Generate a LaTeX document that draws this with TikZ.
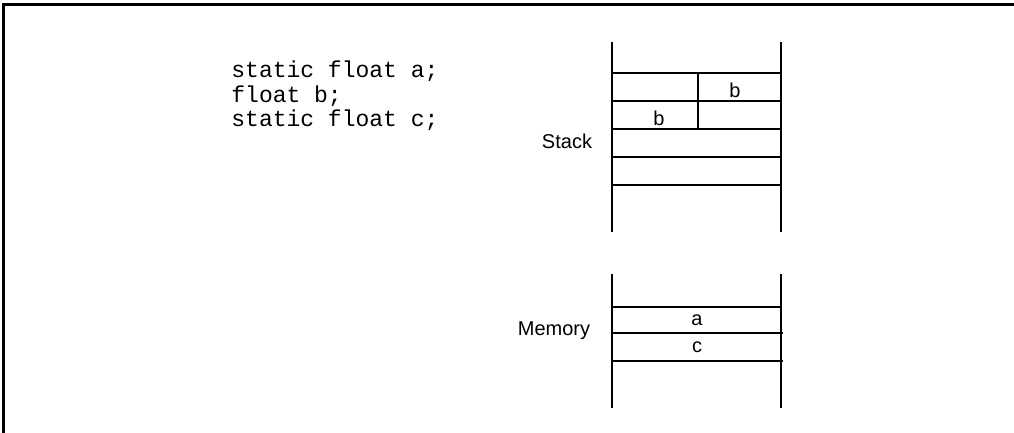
\documentclass[tikz,border=0pt]{standalone}
\usepackage{fontspec}
\setmainfont{Liberation Sans}
\setmonofont{Liberation Mono}
\begin{document}
\begin{tikzpicture}[x=0.5pt, y=-0.5pt,
    frame/.style={line width=1.5pt},
    wall/.style={line width=1pt},
    cell/.style={line width=0.6pt},
    code/.style={font=\ttfamily\fontsize{11.5}{12}\selectfont, anchor=base west, inner sep=0pt},
    lbl/.style={font=\fontsize{10}{12}\selectfont, inner sep=0pt}]
    \useasboundingbox (0,0) rectangle (1014,433);

    % outer frame (top and left edge only)
    \coordinate (TL) at (3,5);
    \coordinate (TR) at (1014,5);
    \coordinate (BL) at (3,433);
    \draw[frame] (BL) -- (TL) -- (TR);

    % declarations
    \node[code] (decA) at (231,78) {static float a;};
    \node[code] (decB) at (231,103) {float b;};
    \node[code] (decC) at (231,127) {static float c;};

    % stack
    \coordinate (S1) at (612,42);
    \coordinate (S2) at (781,42);
    \draw[wall] (S1) -- (612,232);
    \draw[wall] (S2) -- (781,232);
    \draw[cell] (612,73) -- (781,73);
    \draw[cell] (612,101) -- (781,101);
    \draw[cell] (612,129) -- (781,129);
    \draw[cell] (612,157) -- (781,157);
    \draw[cell] (612,185) -- (781,185);
    \draw[wall] (698,73) -- (698,129);
    \node[lbl] (bHi) at (735,90) {b};
    \node[lbl] (bLo) at (659,118) {b};
    \node[lbl] (stack) at (567,141) {Stack};

    % static memory
    \coordinate (M1) at (612,274);
    \coordinate (M2) at (781,274);
    \draw[wall] (M1) -- (612,408);
    \draw[wall] (M2) -- (781,408);
    \draw[cell] (612,307) -- (781,307);
    \draw[cell] (612,333) -- (783,333);
    \draw[cell] (612,361) -- (783,361);
    \node[lbl] (aVal) at (697,320) {a};
    \node[lbl] (cVal) at (697,347) {c};
    \node[lbl] (memory) at (554,331) {Memory};
\end{tikzpicture}
\end{document}
